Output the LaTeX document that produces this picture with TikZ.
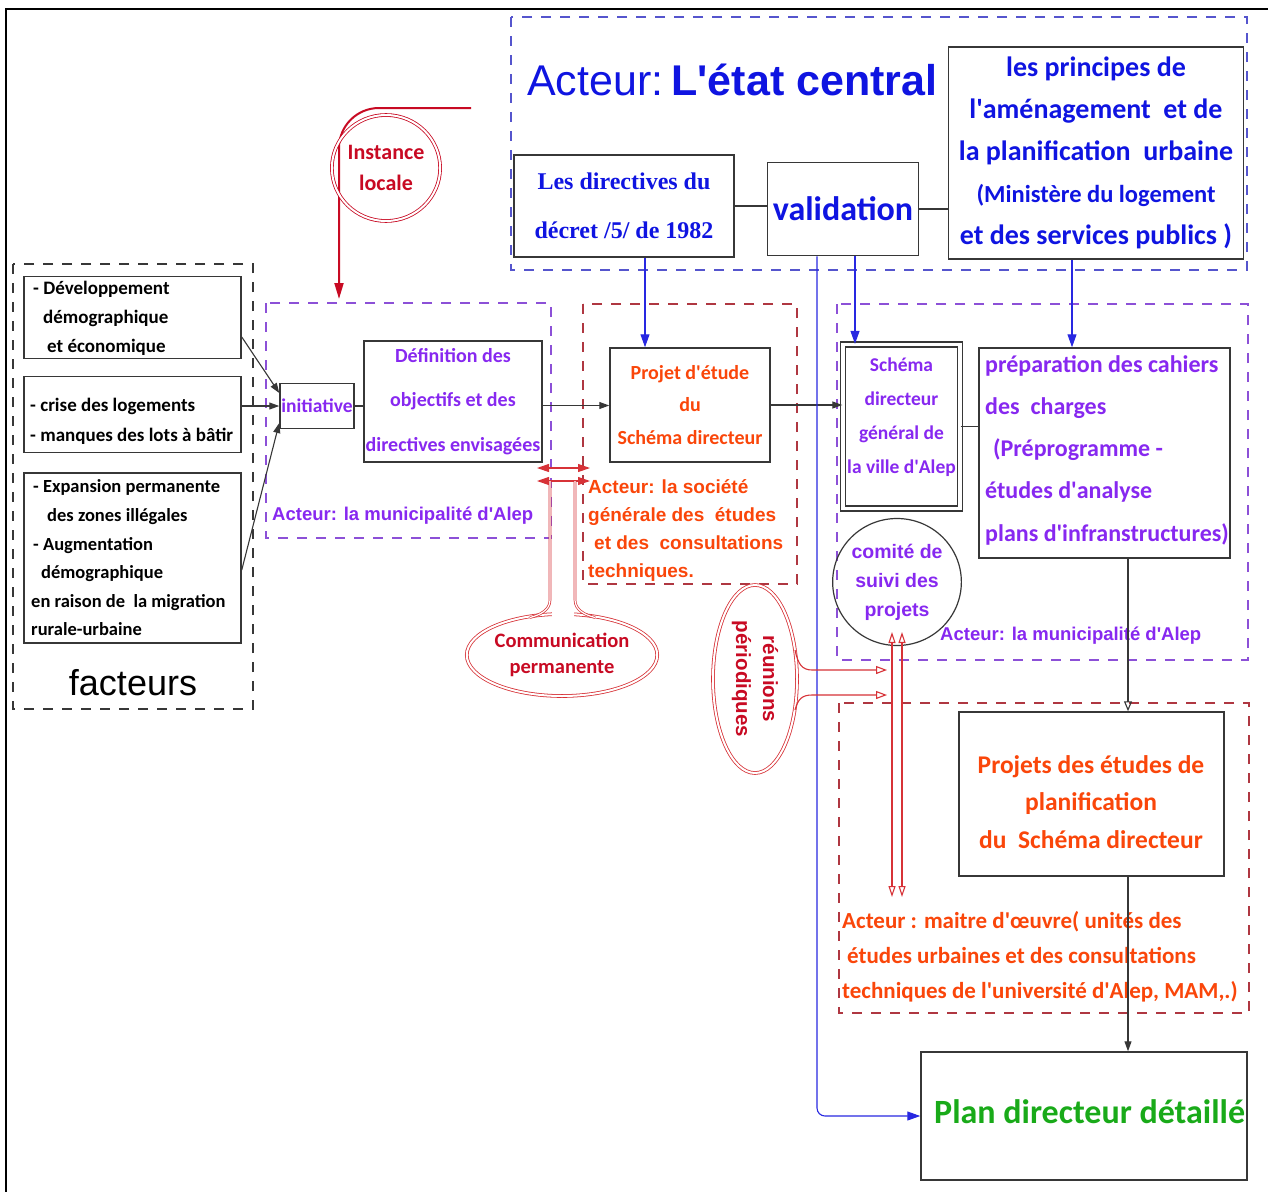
\documentclass[tikz,border=0pt]{standalone}
\usepackage{fontspec}
\setmainfont{Carlito}
\newfontfamily\arialf{Liberation Sans}
\newfontfamily\timesf{Liberation Serif}
\usetikzlibrary{arrows.meta,shapes.geometric}
\definecolor{bluet}{RGB}{15,20,225}
\definecolor{bluel}{RGB}{40,40,225}
\definecolor{blued}{RGB}{85,85,205}
\definecolor{purp}{RGB}{135,40,240}
\definecolor{purpd}{RGB}{140,80,215}
\definecolor{orng}{RGB}{250,70,10}
\definecolor{dred}{RGB}{200,10,35}
\definecolor{redl}{RGB}{215,50,55}
\definecolor{redd}{RGB}{175,55,65}
\definecolor{greent}{RGB}{25,170,25}
\definecolor{boxg}{RGB}{55,55,55}
\newcommand\fsz[2]{\fontsize{#1}{#2}\selectfont}
\newcommand\apo{\textquotesingle}
\begin{document}
\begin{tikzpicture}[x=1pt,y=-1pt,
  box/.style={draw=boxg, line width=1.5pt, rectangle, inner sep=0pt},
  dbox/.style={line width=1.3pt, dash pattern=on 10pt off 9pt},
  conn/.style={draw=boxg, line width=1.1pt},
  arr/.style={conn, -{Triangle[length=10pt,width=7pt]}},
  oarr/.style={conn, -{Triangle[open,length=10pt,width=8pt]}},
  barr/.style={draw=bluel, line width=1.1pt, -{Triangle[length=13pt,width=9pt]}},
  txt/.style={inner sep=0pt},
  redring/.style={draw=redl, double, double distance=2pt, line width=0.8pt, ellipse, inner sep=0pt},
  redarr/.style={draw=redl, line width=1.1pt},
]
\useasboundingbox (0,0) rectangle (1268,1191);
\fill[white] (0,0) rectangle (1268,1191);
% outer frame
\draw[line width=2.5pt] (6,1195) -- (6,9) -- (1272,9);

% ===== Etat central =====
\draw[dbox, draw=blued] (511,17) rectangle (1247,270);
\node[txt, anchor=west, text=bluet, font=\arialf\fsz{43}{50}] (titre) at (527,80) {Acteur:\hspace{8pt}\textbf{L\apo état central}};
\node[box, minimum width=220, minimum height=102, text=bluet, align=center,
      font=\timesf\bfseries\fsz{24}{49}] (dir) at (624,206) {Les directives du\\décret /5/ de 1982};
\node[box, minimum width=151, minimum height=93, text=bluet, font=\bfseries\fsz{34}{40}] (val) at (843,209) {validation};
\node[box, minimum width=295, minimum height=212, text=bluet, align=center, font=\bfseries\fsz{28}{42}] (princ) at (1096,153)
  {les principes de\\l\apo aménagement\ \ et de\\la planification\ \ urbaine\\\fsz{24.5}{42}(Ministère du logement\\et des services publics )};
\draw[conn] (dir.east) -- (dir.east -| val.west);
\draw[conn] (val.east) -- (val.east -| princ.west);

% ===== facteurs =====
\draw[dbox, draw=boxg] (13,264) rectangle (253,709);
\node[box, minimum width=217, minimum height=82] (f1) at (132.5,317.5) {};
\node[txt, anchor=west, align=left, font=\bfseries\fsz{19}{29}] (f1t) at (33,318)
  {- Développement\\\hspace*{10pt}démographique\\\hspace*{14pt}et économique};
\node[box, minimum width=217, minimum height=76] (f2) at (132.5,414.5) {};
\node[txt, anchor=west, align=left, font=\bfseries\fsz{19}{30}] (f2t) at (30,421) {- crise des logements\\- manques des lots à bâtir};
\node[box, minimum width=217, minimum height=170] (f3) at (132.5,558) {};
\node[txt, anchor=west, align=left, font=\bfseries\fsz{18.5}{28.6}] (f3t) at (31,558)
  {\hspace*{2pt}- Expansion permanente\\\hspace*{16pt}des zones illégales\\\hspace*{2pt}- Augmentation\\\hspace*{10pt}démographique\\en raison de\ \ la migration\\rurale-urbaine};
\node[txt, font=\arialf\fsz{36}{40}] (fact) at (133,683) {facteurs};

% ===== municipalite 1 =====
\draw[dbox, draw=purpd] (266,303) rectangle (551,538);
\node[box, minimum width=74, minimum height=45, text=purp, font=\bfseries\fsz{19.5}{22}] (init) at (317,406) {initiative};
\node[box, minimum width=178, minimum height=121, text=purp, align=center, font=\bfseries\fsz{20}{44.5}] (def) at (453,401.5)
  {Définition des\\objectifs et des\\directives envisagées};
\node[txt, anchor=west, text=purp, font=\arialf\bfseries\fsz{18.5}{24}] (act1) at (272,516) {Acteur: la municipalité d\apo Alep};
\draw[arr] ([yshift=-19.5pt]f1.east) -- ([yshift=13pt]init.west);
\draw[arr] ([yshift=8.5pt]f2.east) -- (init.west);
\draw[arr] ([yshift=-12pt]f3.east) -- ([yshift=-17pt]init.west);
\draw[conn] (init.east) -- (init.east -| def.west);

% ===== societe =====
\draw[dbox, draw=redd] (583,304) rectangle (797,584);
\node[box, minimum width=160, minimum height=114, text=orng, align=center, font=\bfseries\fsz{20}{32.5}] (proj) at (690,405)
  {Projet d\apo étude\\du\\Schéma directeur};
\node[txt, anchor=west, text=orng, align=left, font=\arialf\bfseries\fsz{19}{28}] (act2) at (588,530)
  {Acteur: la société\\générale des\ \ études\\\hspace*{6pt}et des\ \ consultations\\techniques.};
\draw[arr] ([yshift=-4pt]def.east) -- ([yshift=-4pt]def.east -| proj.west);

% ===== municipalite 2 =====
\draw[dbox, draw=purpd] (837,304) rectangle (1248,660);
\node[draw=boxg, double, double distance=3.5pt, line width=1.3pt, rectangle, inner sep=0pt,
      minimum width=117, minimum height=164] (schema) at (901.5,426.5) {};
\node[txt, text=purp, align=center, font=\bfseries\fsz{19.5}{34}] (schemaT) at (901.5,417)
  {Schéma\\directeur\\général de\\la ville d\apo Alep};
\node[box, minimum width=251, minimum height=210] (prep) at (1104.5,453) {};
\node[txt, anchor=west, text=purp, align=left, font=\bfseries\fsz{24}{42.25}] (prepT) at (985,450)
  {préparation des cahiers\\des\ \ charges\\\hspace*{8pt}(Préprogramme -\\études d\apo analyse\\plans d\apo infranstructures)};
\node[draw=boxg, ellipse, line width=1.2pt, minimum width=108, minimum height=127, inner sep=0pt,
      text=purp, align=center, font=\arialf\bfseries\fsz{19.5}{29}] (comite) at (897,582) {comité de\\suivi des\\projets};
\node[txt, anchor=west, text=purp, font=\arialf\bfseries\fsz{18.5}{24}] (act3) at (940,636) {Acteur: la municipalité d\apo Alep};
\draw[arr] (proj.east) -- (proj.east -| schema.west);
\draw[conn] (schema.east) -- (schema.east -| prep.west);

% ===== maitre d'oeuvre =====
\draw[dbox, draw=redd] (839,703) rectangle (1249,1013);
\node[box, minimum width=265, minimum height=164] (pjs) at (1091.5,794) {};
\node[txt, text=orng, align=center, font=\bfseries\fsz{25.5}{37.5}] (pjsT) at (1091,802)
  {Projets des études de\\planification\\du\ \ Schéma directeur};
\node[txt, anchor=west, text=orng, align=left, font=\bfseries\fsz{23}{35}] (act4) at (842,957)
  {Acteur : maitre d\apo œuvre( unités des\\\hspace*{5pt}études urbaines et des consultations\\techniques de l\apo université d\apo Alep, MAM,.)};
\draw[oarr] ([xshift=23.5pt]prep.south) -- ([xshift=23.5pt]prep.south |- pjs.north);

% ===== plan detaille =====
\node[box, minimum width=326, minimum height=128] (plan) at (1084,1116) {};
\node[txt, anchor=west, text=greent, font=\bfseries\fsz{34}{40}] (planT) at (934,1112) {Plan directeur détaillé};
\draw[arr] ([xshift=36.5pt]pjs.south) -- ([xshift=36.5pt]pjs.south |- plan.north);

% ===== blue arrows =====
\draw[barr] ([xshift=21pt]dir.south) -- ([xshift=21pt]dir.south |- proj.north);
\draw[barr] ([xshift=12pt]val.south) -- ([xshift=12pt]val.south |- schema.north);
\draw[barr] ([xshift=-24pt]princ.south) -- ([xshift=-24pt]princ.south |- prep.north);
\draw[barr, rounded corners=8pt] ([xshift=-26pt]val.south) |- (plan.west);

% ===== instance locale =====
\coordinate (ilS) at (471,108);
\coordinate (ilE) at (339,299);
\draw[draw=dred, line width=2pt, rounded corners=40pt, -{Triangle[length=16pt,width=9pt]}] (ilS) -- (339,108) -- (ilE);
\node[redring, draw=dred, minimum width=88, minimum height=106, text=dred, align=center,
      font=\bfseries\fsz{22}{31}] (inst) at (386,168) {Instance\\locale};

% ===== communication permanente =====
\node[redring, minimum width=158, minimum height=82, text=dred, align=center,
      font=\bfseries\fsz{20.5}{26}] (comm) at (562,655) {Communication\\permanente};
\fill[white] (551.5,609) rectangle (573.5,620);
\coordinate (cA1) at (537,468); \coordinate (cA2) at (590,468);
\coordinate (cB1) at (537,481); \coordinate (cB2) at (590,481);
\draw[redarr, {Triangle[length=12pt,width=8pt]}-{Triangle[length=12pt,width=8pt]}] (cA1) -- (cA2);
\draw[redarr, {Triangle[length=12pt,width=8pt]}-{Triangle[length=12pt,width=8pt]}] (cB1) -- (cB2);
\draw[draw=redl, double, double distance=1.2pt, line width=0.7pt] (550,481) -- (550,600) .. controls (550,610) and (540,615) .. (530,617.5);
\draw[draw=redl, double, double distance=1.2pt, line width=0.7pt] (575,481) -- (575,600) .. controls (575,610) and (585,615) .. (595,617.5);

% ===== reunions periodiques =====
\node[redring, rotate=-90, minimum width=188, minimum height=84, text=dred, align=center,
      font=\arialf\bfseries\fsz{20.5}{27}] (reun) at (755,679) {réunions\\périodiques};
\coordinate (rT) at (887,670); \coordinate (rB) at (887,695);
\draw[redarr, -{Triangle[open,length=11pt,width=8pt]}] (795,650) .. controls (798,664) and (802,670) .. (812,670) -- (rT);
\draw[redarr, -{Triangle[open,length=11pt,width=8pt]}] (795,710) .. controls (798,699) and (802,695) .. (812,695) -- (rB);
\coordinate (v1a) at (892,632); \coordinate (v1b) at (892,897);
\coordinate (v2a) at (902,632); \coordinate (v2b) at (902,897);
\draw[redarr, {Triangle[open,length=11pt,width=7pt]}-{Triangle[open,length=11pt,width=7pt]}] (v1a) -- (v1b);
\draw[redarr, {Triangle[open,length=11pt,width=7pt]}-{Triangle[open,length=11pt,width=7pt]}] (v2a) -- (v2b);
\end{tikzpicture}
\end{document}
